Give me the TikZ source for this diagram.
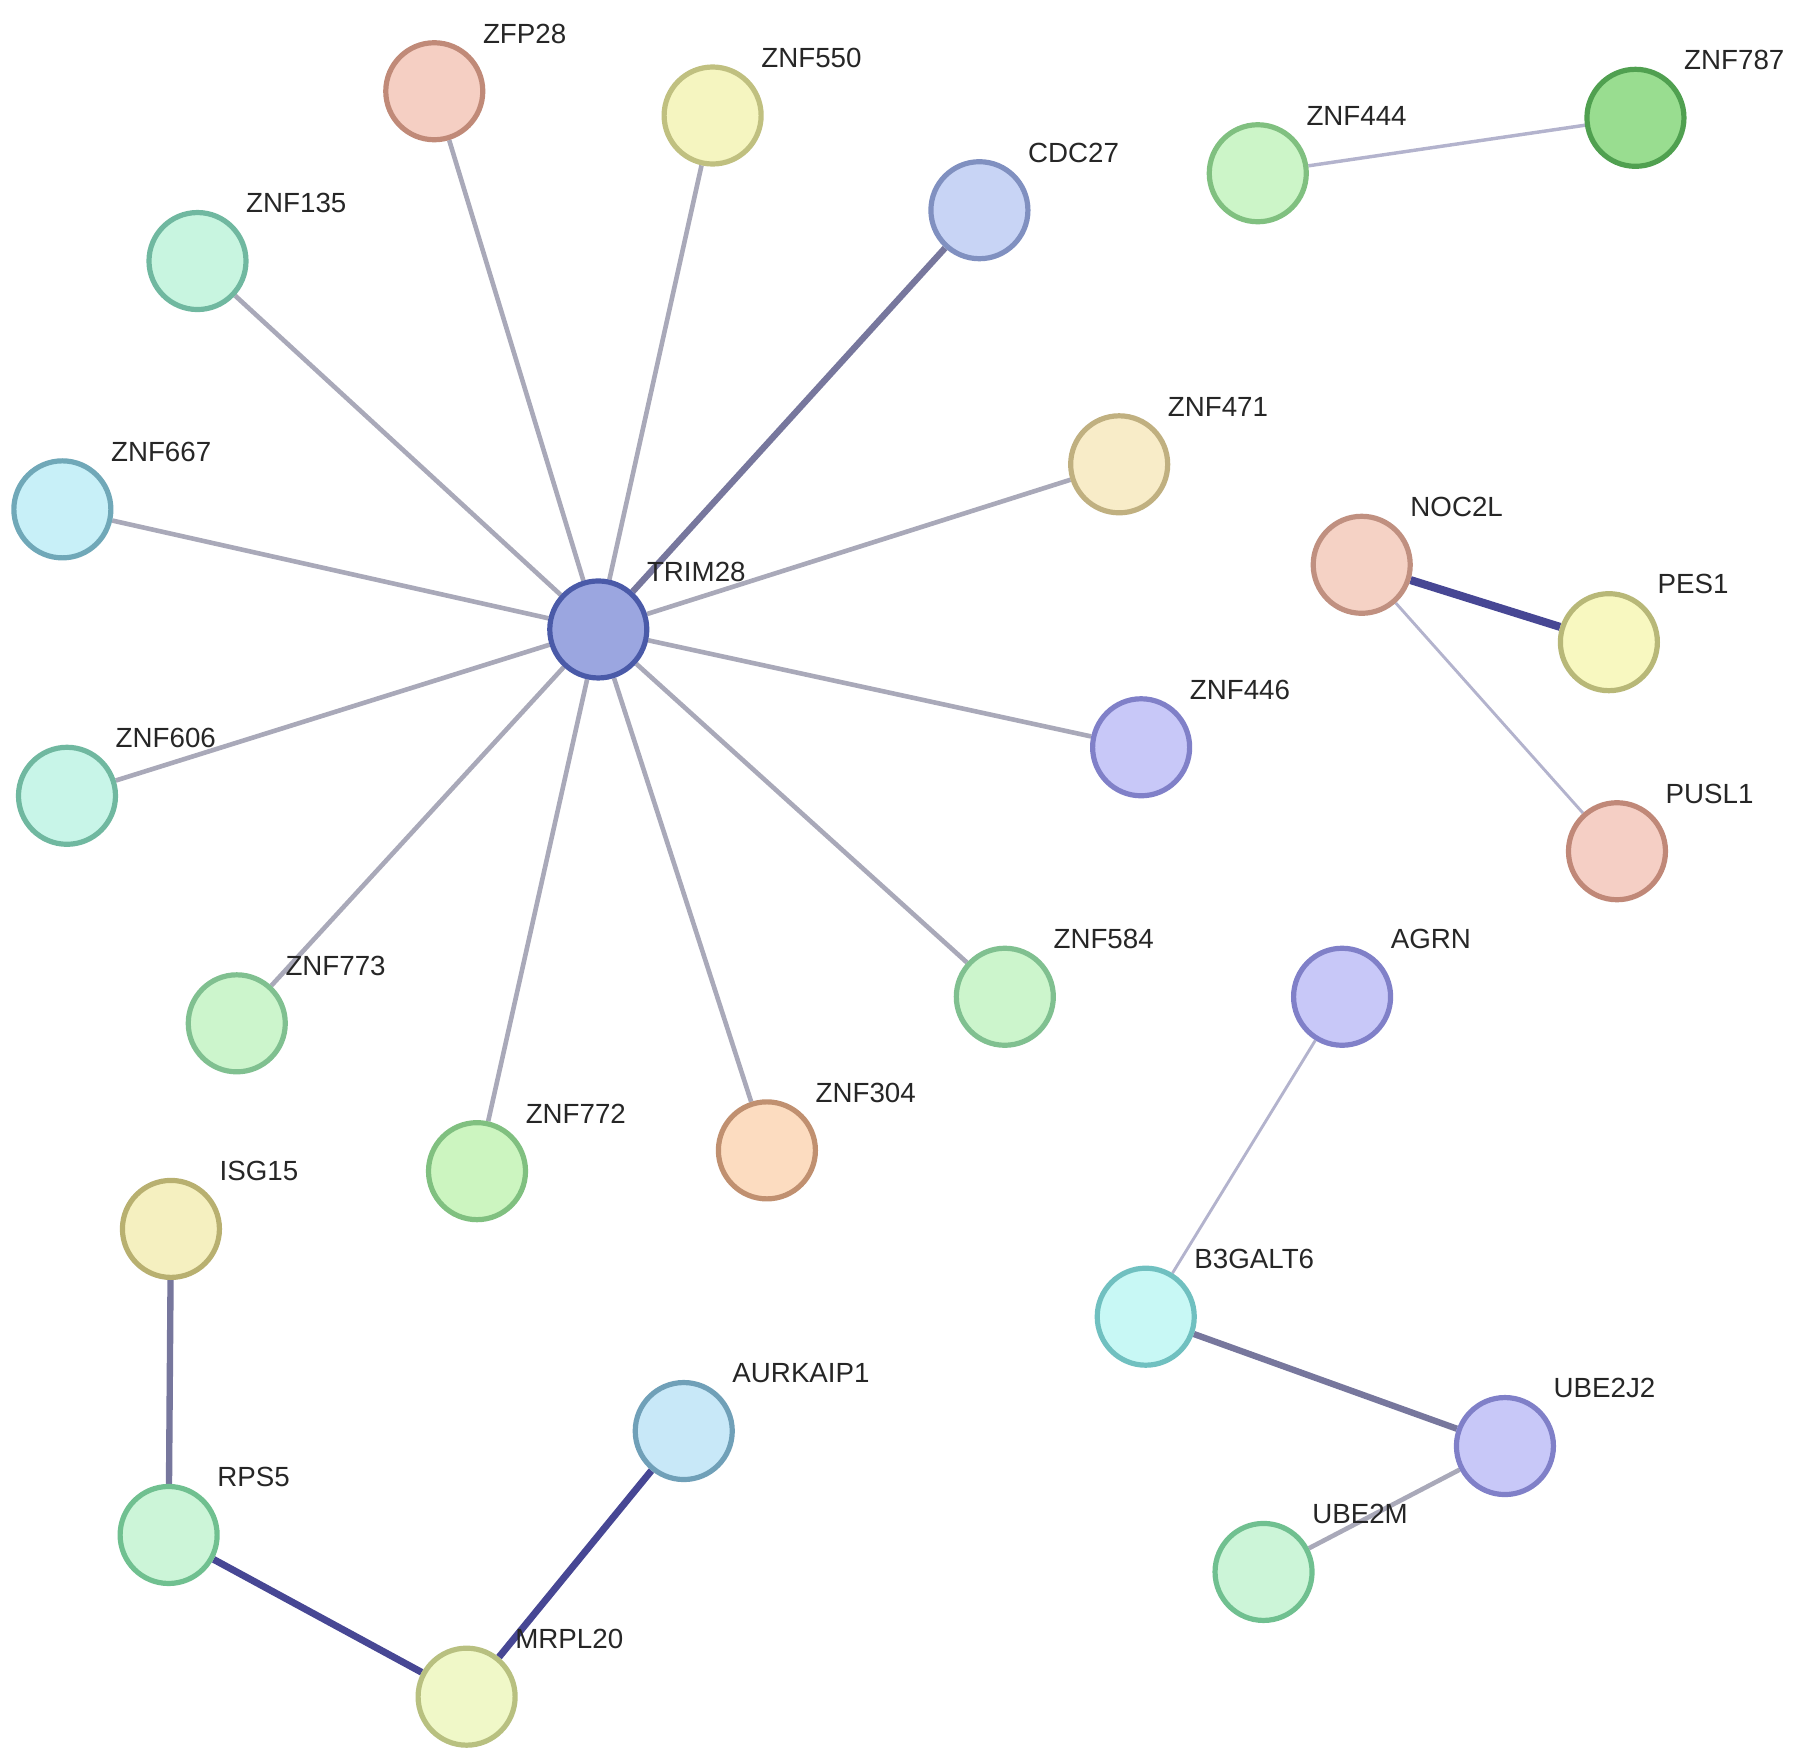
\documentclass[tikz,border=0pt]{standalone}
\usepackage{fontspec}
\setmainfont{Liberation Sans}
\usetikzlibrary{backgrounds}
\begin{document}
\begin{tikzpicture}[x=1pt,y=-1pt,
 prot/.style={circle,minimum size=84pt,inner sep=0pt,line width=4.5pt},
 lab/.style={anchor=west,font=\fontsize{24}{28}\selectfont,text=black!85,inner sep=0pt},
 e/.style={line width=4pt,draw=gray!45!blue!15!white!75!black},
 lt/.style={line width=3pt,draw=black!22!white!90!blue},
 med/.style={line width=5.5pt,draw=black!45!white!85!blue},
 dk/.style={line width=7pt,draw=black!60!white!70!blue}]
\useasboundingbox (0,0) rectangle (1568,1524);
\newcommand\pnode[6]{%
 \definecolor{f#1}{HTML}{#5}\definecolor{b#1}{HTML}{#6}%
 \node[prot,fill=f#1,draw=b#1] (#1) at (#3,#4) {};
 \node[lab] at (#3+42,#4-50) {#2};}
\pnode{TRIM28}{TRIM28}{518}{545}{9BA6E0}{4A5AA8}
\pnode{ZFP28}{ZFP28}{376}{79}{F5CFC3}{C08A78}
\pnode{ZNF550}{ZNF550}{617}{100}{F5F5C0}{C0C080}
\pnode{CDC27}{CDC27}{848}{182}{C8D4F5}{8090C0}
\pnode{ZNF444}{ZNF444}{1089}{150}{CCF5C8}{80C080}
\pnode{ZNF787}{ZNF787}{1416}{102}{99DD90}{50A050}
\pnode{ZNF135}{ZNF135}{171}{226}{C8F5E0}{70B8A0}
\pnode{ZNF667}{ZNF667}{54}{441}{C8F0F8}{70A8B8}
\pnode{ZNF471}{ZNF471}{969}{402}{F8ECC8}{C0B080}
\pnode{NOC2L}{NOC2L}{1179}{489}{F5D2C5}{C09080}
\pnode{PES1}{PES1}{1393}{556}{F8F8C0}{B8B878}
\pnode{ZNF446}{ZNF446}{988}{647}{C8C8F8}{8080C8}
\pnode{ZNF606}{ZNF606}{58}{689}{C8F5E8}{70B8A0}
\pnode{PUSL1}{PUSL1}{1400}{737}{F5CFC5}{C08878}
\pnode{ZNF773}{ZNF773}{205}{886}{CCF5CC}{80C090}
\pnode{ZNF584}{ZNF584}{870}{863}{CCF5CC}{80C090}
\pnode{AGRN}{AGRN}{1162}{863}{C8C8F8}{8080C8}
\pnode{ZNF772}{ZNF772}{413}{1014}{CCF5C0}{80C080}
\pnode{ZNF304}{ZNF304}{664}{996}{FCDCC0}{C09070}
\pnode{ISG15}{ISG15}{148}{1064}{F5F0C0}{B8B070}
\pnode{B3GALT6}{B3GALT6}{992}{1140}{C8F8F5}{70C0C0}
\pnode{AURKAIP1}{AURKAIP1}{592}{1239}{C8E8F8}{70A0B8}
\pnode{UBE2J2}{UBE2J2}{1303}{1252}{C8C8F8}{8080C8}
\pnode{RPS5}{RPS5}{146}{1329}{CCF5D8}{70C090}
\pnode{UBE2M}{UBE2M}{1094}{1361}{CCF5D8}{70C090}
\pnode{MRPL20}{MRPL20}{404}{1469}{F0F8C8}{B8C080}
\begin{scope}[on background layer]
\foreach \n in {ZFP28,ZNF550,ZNF135,ZNF667,ZNF471,ZNF446,ZNF606,ZNF773,ZNF584,ZNF772,ZNF304}
  \draw[e] (TRIM28) -- (\n);
\draw[med] (TRIM28) -- (CDC27);
\draw[lt] (ZNF444) -- (ZNF787);
\draw[dk] (NOC2L) -- (PES1);
\draw[lt,line width=2.5pt] (NOC2L) -- (PUSL1);
\draw[lt,line width=2.5pt] (AGRN) -- (B3GALT6);
\draw[med] (B3GALT6) -- (UBE2J2);
\draw[e] (UBE2J2) -- (UBE2M);
\draw[med] (ISG15) -- (RPS5);
\draw[dk,line width=6pt] (RPS5) -- (MRPL20);
\draw[dk,line width=6pt] (AURKAIP1) -- (MRPL20);
\end{scope}
\end{tikzpicture}
\end{document}
